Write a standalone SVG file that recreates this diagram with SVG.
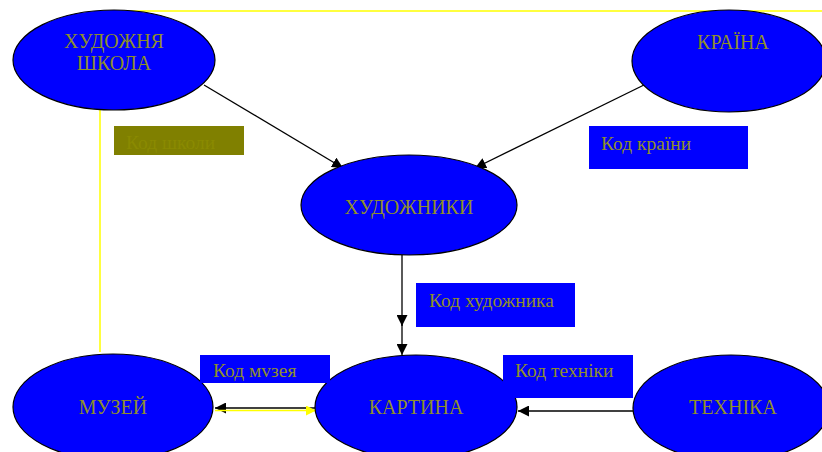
<svg xmlns="http://www.w3.org/2000/svg" width="822" height="452" viewBox="0 0 822 452">
<defs>
<style>
.node{fill:#0000ff;stroke:#000;stroke-width:1.2}
.t{font-family:"Liberation Serif","Times New Roman",serif;font-size:20px;fill:#8f8f2a}
.c{text-anchor:middle}
.lbl{font-family:"Liberation Serif","Times New Roman",serif;font-size:19.5px;fill:#8f8f2a}
.box{fill:#0000ff}
.ln{stroke:#000;stroke-width:1.3;fill:none}
</style>
<marker id="ah" viewBox="0 0 10 10" refX="10" refY="5" markerWidth="11" markerHeight="11" markerUnits="userSpaceOnUse" orient="auto"><path d="M0,0 L10,5 L0,10 z" fill="#000"/></marker>
<marker id="ahy" viewBox="0 0 10 10" refX="10" refY="5" markerWidth="11" markerHeight="10" markerUnits="userSpaceOnUse" orient="auto"><path d="M0,0 L10,5 L0,10 z" fill="#ffff00"/></marker>
</defs>
<rect width="822" height="452" fill="#fff"/>
<g id="frame" fill="none" stroke="#ffff00" stroke-width="1.5">
<path d="M100,352 V11 H822"/>
</g>
<g id="connectors">
<line class="ln" x1="204" y1="85" x2="343" y2="168" marker-end="url(#ah)"/>
<line class="ln" x1="646" y1="84" x2="475" y2="168" marker-end="url(#ah)"/>
<line class="ln" x1="402" y1="255" x2="402" y2="326" marker-end="url(#ah)"/>
<line class="ln" x1="402" y1="320" x2="402" y2="355" marker-end="url(#ah)"/>
<line class="ln" x1="633" y1="411" x2="518" y2="411" marker-end="url(#ah)"/>
<line class="ln" x1="315" y1="408" x2="215" y2="408" marker-end="url(#ah)"/>
<line x1="215" y1="410.5" x2="316" y2="410.5" stroke="#ffff00" stroke-width="1.5" marker-end="url(#ahy)"/>
</g>
<g id="school"><ellipse class="node" cx="114" cy="60" rx="101" ry="50"/><text class="t c" x="114" y="48">ХУДОЖНЯ</text><text class="t c" x="114" y="70">ШКОЛА</text></g>
<g id="country"><ellipse class="node" cx="729" cy="61" rx="97" ry="51"/><text class="t c" x="733" y="49">КРАЇНА</text></g>
<g id="artists"><ellipse class="node" cx="409" cy="205" rx="108" ry="50"/><text class="t c" x="409" y="214">ХУДОЖНИКИ</text></g>
<g id="museum"><ellipse class="node" cx="113" cy="407" rx="100" ry="53"/><text class="t c" x="113" y="414">МУЗЕЙ</text></g>
<g id="painting"><ellipse class="node" cx="416" cy="407" rx="101" ry="52"/><text class="t c" x="416" y="414">КАРТИНА</text></g>
<g id="technique"><ellipse class="node" cx="731" cy="408" rx="98" ry="53"/><text class="t c" x="733" y="414">ТЕХНІКА</text></g>
<g id="lbl-school"><rect x="114" y="126" width="130" height="29" fill="#808000"/><text class="lbl" x="126" y="149" style="fill:#8a8a00">Код школи</text></g>
<g id="lbl-country"><rect class="box" x="589" y="126" width="159" height="43"/><text class="lbl" x="601" y="150">Код країни</text></g>
<g id="lbl-artist"><rect class="box" x="416" y="283" width="159" height="44"/><text class="lbl" x="429" y="307">Код художника</text></g>
<g id="lbl-museum"><rect class="box" x="200" y="355" width="130" height="28"/><text class="lbl" x="213" y="377">Код мvзея</text></g>
<g id="lbl-technique"><rect class="box" x="503" y="355" width="130" height="43"/><text class="lbl" x="515" y="377">Код техніки</text></g>
</svg>
